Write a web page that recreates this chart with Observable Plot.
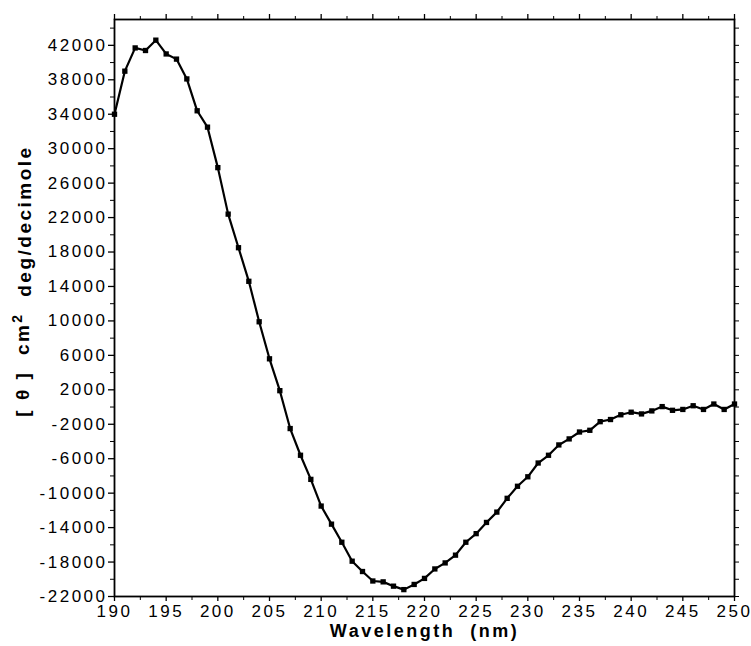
<!DOCTYPE html>
<html><head><meta charset="utf-8">
<script src="https://cdn.jsdelivr.net/npm/d3@7"></script>
<script src="https://cdn.jsdelivr.net/npm/@observablehq/plot@0.6"></script>
<style>body{margin:0;background:#fff} svg{display:block}</style>
</head><body><div id="chart"></div>
<script>
const wavelength = [190,191,192,193,194,195,196,197,198,199,200,201,202,203,204,205,206,207,208,209,210,211,212,213,214,215,216,217,218,219,220,221,222,223,224,225,226,227,228,229,230,231,232,233,234,235,236,237,238,239,240,241,242,243,244,245,246,247,248,249,250];
const ellipticity = [34000,39000,41700,41400,42600,41000,40400,38100,34400,32500,27800,22400,18500,14600,9900,5600,1900,-2500,-5600,-8400,-11500,-13600,-15700,-17900,-19100,-20200,-20300,-20800,-21200,-20600,-19900,-18800,-18100,-17200,-15700,-14700,-13400,-12200,-10600,-9200,-8100,-6500,-5600,-4400,-3700,-2900,-2700,-1700,-1450,-900,-600,-800,-450,50,-380,-280,150,-280,350,-280,350];
const xTicks = [190,195,200,205,210,215,220,225,230,235,240,245,250];
const xMinorTicks = [192.5,197.5,202.5,207.5,212.5,217.5,222.5,227.5,232.5,237.5,242.5,247.5];
const yTicks = [-22000,-18000,-14000,-10000,-6000,-2000,2000,6000,10000,14000,18000,22000,26000,30000,34000,38000,42000];
const yMinorTicks = [-20000,-16000,-12000,-8000,-4000,0,4000,8000,12000,16000,20000,24000,28000,32000,36000,40000,44000];
const yAllTicks = yTicks.concat(yMinorTicks);
const xLabel = "Wavelength  (nm)";
const yLabelParts = ["[ θ ]  cm", "2", "  deg/decimole"];
const yLabel = yLabelParts.join("");

const data = wavelength.map((w, i) => ({w, v: ellipticity[i]}));
const font = "'Liberation Sans', Arial, Helvetica, sans-serif";

const chart = Plot.plot({
  width: 751, height: 646,
  marginLeft: 114, marginRight: 17, marginTop: 19, marginBottom: 50,
  style: {fontFamily: font, fontSize: "17px", background: "#fff", color: "#000", letterSpacing: "2.5px"},
  x: {domain: [190, 250]},
  y: {domain: [-22000, 45000]},
  marks: [
    Plot.axisX({ticks: xTicks, tickSize: 5, tickPadding: 3, tickFormat: d => String(d), label: null, strokeWidth: 1.3, fontSize: 17, letterSpacing: "0.5px"}),
    Plot.axisX({ticks: xMinorTicks, tickSize: 4, tickFormat: () => "", label: null}),
    Plot.axisX({anchor: "top", ticks: xTicks, tickSize: 6, tickFormat: () => "", label: null, strokeWidth: 1.3}),
    Plot.axisX({anchor: "top", ticks: xMinorTicks, tickSize: 4, tickFormat: () => "", label: null}),
    Plot.axisY({ticks: yTicks, tickSize: 6, tickPadding: 1, tickFormat: d => String(d), label: null, strokeWidth: 1.3}),
    Plot.axisY({ticks: yMinorTicks, tickSize: 4, tickFormat: () => "", label: null}),
    Plot.axisY({anchor: "right", ticks: yAllTicks, tickSize: 4, tickFormat: () => "", label: null}),
    Plot.frame({stroke: "#000", strokeWidth: 1.8}),
    Plot.line(data, {x: "w", y: "v", stroke: "#000", strokeWidth: 2.2}),
    Plot.dot(data, {x: "w", y: "v", symbol: "square", r: 3, fill: "#000"}),
    Plot.text([xLabel], {frameAnchor: "bottom", text: d => d, dy: 40, fontWeight: "bold", fontSize: 18, letterSpacing: "3.5px"}),
    Plot.text([yLabel], {frameAnchor: "left", textAnchor: "middle", text: d => d, dx: -92, dy: -27, rotate: -90, fontWeight: "bold", fontSize: 19, letterSpacing: "2.5px"})
  ]
});
document.getElementById("chart").appendChild(chart);
// turn the "2" of cm2 into a superscript
d3.select(chart).selectAll("text").filter(function () { return this.textContent === yLabel; }).each(function () {
  const t = d3.select(this);
  t.text(null);
  t.append("tspan").text(yLabelParts[0]);
  t.append("tspan").attr("dy", "-0.45em").attr("font-size", "14px").text(yLabelParts[1]);
  t.append("tspan").attr("dy", "0.45em").text(yLabelParts[2]);
});
</script>
</body></html>
